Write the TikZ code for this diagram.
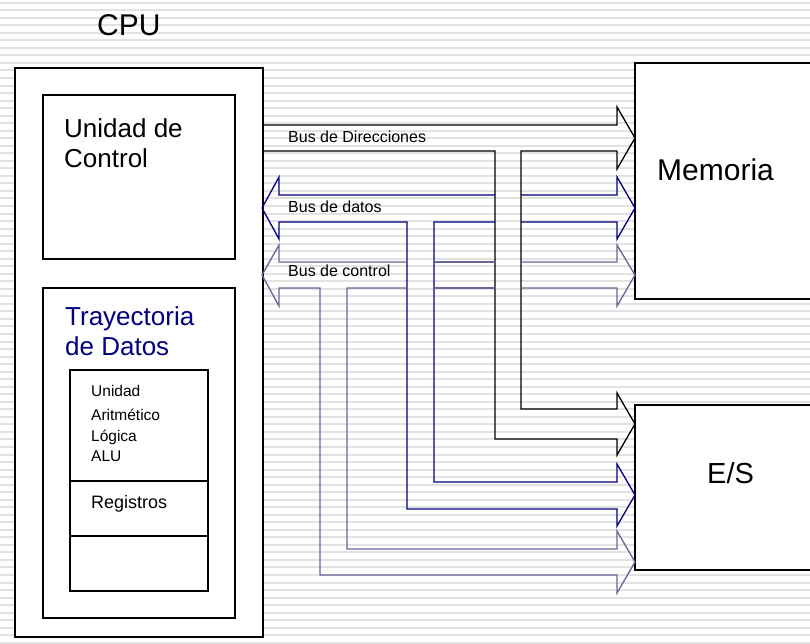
\documentclass[tikz,border=0pt]{standalone}
\usepackage{fontspec}
\setmainfont{Liberation Sans}
\definecolor{stripec}{RGB}{226,226,226}
\definecolor{navyb}{RGB}{0,0,128}
\definecolor{ctrlb}{RGB}{102,102,153}
\newcommand\setfs[1]{\fontsize{#1}{#1}\selectfont}
\begin{document}
\begin{tikzpicture}[x=1pt,y=-1pt,
  box/.style={draw=black,fill=white,line width=1.6pt,inner sep=0pt,anchor=north west},
  lbl/.style={anchor=base west,inner sep=0pt},
  bus/.style={line width=1.3pt,line join=miter},
  stripeline/.style={draw=stripec,line width=2pt}]
\clip (0,0) rectangle (810,643);
\fill[white] (0,0) rectangle (810,643);
\foreach \i in {0,...,86} \draw[stripeline] (0,{2.7+7.53*\i}) -- (810,{2.7+7.53*\i});
% boxes
\node[box,minimum width=248pt,minimum height=569pt] (cpu) at (14,67) {};
\node[box,minimum width=192pt,minimum height=164pt] (uc) at (42,94) {};
\node[box,minimum width=192pt,minimum height=330pt] (tray) at (42,287) {};
\node[box,minimum width=138pt,minimum height=111pt] (alu) at (69,369) {};
\node[box,minimum width=138pt,minimum height=55pt] (reg) at (69,480) {};
\node[box,minimum width=138pt,minimum height=55pt] (extra) at (69,535) {};
\node[box,minimum width=190pt,minimum height=236pt] (mem) at (634,62) {};
\node[box,minimum width=190pt,minimum height=165pt] (es) at (634,404) {};
% texts
\node[lbl] (tcpu) at (97,35) {\setfs{30}CPU};
\node[lbl] (tuc1) at (64,137) {\setfs{26}Unidad de};
\node[lbl] (tuc2) at (64,167) {\setfs{26}Control};
\node[lbl,text=navyb] (ttr1) at (65,325) {\setfs{26}Trayectoria};
\node[lbl,text=navyb] (ttr2) at (65,355) {\setfs{26}de Datos};
\node[lbl] (talu1) at (91,396) {\setfs{15.5}Unidad};
\node[lbl] (talu2) at (91,420) {\setfs{15.5}Aritmético};
\node[lbl] (talu3) at (91,441) {\setfs{15.5}Lógica};
\node[lbl] (talu4) at (91,461) {\setfs{15.5}ALU};
\node[lbl] (treg) at (91,508) {\setfs{18}Registros};
\node[lbl] (tmem) at (657,180) {\setfs{30}Memoria};
\node[lbl] (tes) at (707,483) {\setfs{29}E/S};
\node[lbl] (bdir) at (288,142) {\setfs{16}Bus de Direcciones};
\node[lbl] (bdat) at (288,212) {\setfs{16}Bus de datos};
\node[lbl] (bctl) at (288,276) {\setfs{16}Bus de control};
% address bus
\draw[bus,black] (262,125) -- (617,125) -- (617,107) -- (635,138) -- (617,169) -- (617,151) -- (521,151) -- (521,409) -- (617,409) -- (617,393) -- (635,424) -- (617,455) -- (617,439) -- (495,439) -- (495,151) -- (262,151);
% data bus
\draw[bus,navyb] (495,195) -- (279,195) -- (279,177) -- (262,208) -- (279,239) -- (279,222) -- (407,222) -- (407,509) -- (617,509) -- (617,526) -- (635,495) -- (617,464) -- (617,482) -- (434,482) -- (434,222) -- (495,222);
\draw[bus,navyb] (521,222) -- (617,222) -- (617,239) -- (635,208) -- (617,177) -- (617,195) -- (521,195);
% control bus
\draw[bus,ctrlb] (407,262) -- (279,262) -- (279,245) -- (262,275) -- (279,306) -- (279,288) -- (320,288) -- (320,575) -- (617,575) -- (617,593) -- (635,562) -- (617,531) -- (617,549) -- (347,549) -- (347,288) -- (407,288);
\draw[bus,ctrlb] (434,262) -- (495,262) (434,288) -- (495,288);
\draw[bus,ctrlb] (521,288) -- (617,288) -- (617,306) -- (635,275) -- (617,245) -- (617,262) -- (521,262);
\end{tikzpicture}
\end{document}
